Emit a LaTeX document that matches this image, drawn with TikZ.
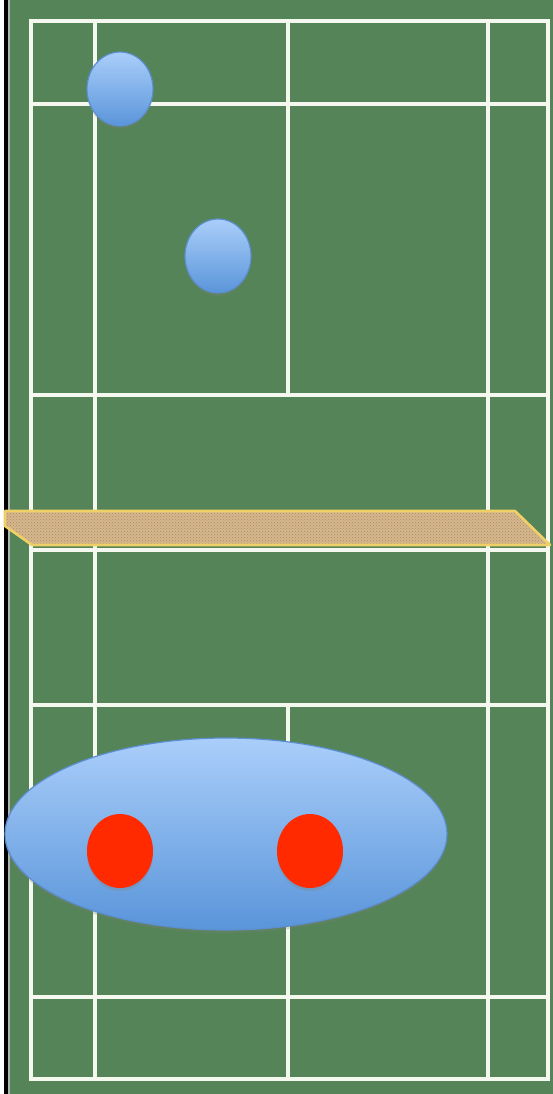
\documentclass[tikz,border=0pt]{standalone}
\usetikzlibrary{shapes.geometric,shadows,patterns}
\definecolor{court}{HTML}{548457}
\definecolor{courtline}{HTML}{F4F8EE}
\definecolor{plA}{HTML}{AACEFA}
\definecolor{plB}{HTML}{5A95DA}
\definecolor{plEdge}{HTML}{5C8ED0}
\definecolor{netfill}{HTML}{D6B78C}
\definecolor{netdot}{HTML}{A88A68}
\definecolor{netedge}{HTML}{EFD066}
\definecolor{redp}{HTML}{FF2A00}
\tikzset{
  cline/.style={courtline,line width=4.5pt,line cap=rect},
  player/.style={ellipse,draw=plEdge,line width=1.2pt,top color=plA,bottom color=plB,
     minimum width=66pt,minimum height=74pt,inner sep=0pt,outer sep=0pt,
     drop shadow={shadow xshift=0pt,shadow yshift=-3pt,opacity=0.25}},
  redplayer/.style={ellipse,fill=redp,minimum width=66pt,minimum height=74pt,inner sep=0pt,
     drop shadow={shadow xshift=0pt,shadow yshift=-3pt,opacity=0.3}},
  zone/.style={ellipse,draw=plEdge,line width=1.2pt,top color=plA,bottom color=plB,
     minimum width=442pt,minimum height=192pt,inner sep=0pt,
     drop shadow={shadow xshift=0pt,shadow yshift=-3pt,opacity=0.25}}
}
\begin{document}
\begin{tikzpicture}[x=1pt,y=-1pt]
\useasboundingbox (0,0) rectangle (553,1094);
\fill[white] (0,0) rectangle (553,1094);
\fill[court] (8,0) rectangle (553,1094);
\fill[black] (4,0) rectangle (8,1094);
\fill[gray!60] (8,0) rectangle (9.5,1094);
% court lines
\draw[cline] (31,21) rectangle (548,1079);
\draw[cline] (95,21) -- (95,1079);
\draw[cline] (488,21) -- (488,1079);
\draw[cline] (288,21) -- (288,395);
\draw[cline] (288,705) -- (288,1079);
\draw[cline] (31,104) -- (548,104);
\draw[cline] (31,395) -- (548,395);
\draw[cline] (31,550) -- (548,550);
\draw[cline] (31,705) -- (548,705);
\draw[cline] (31,997) -- (548,997);
% net
\fill[netfill] (5,511) -- (515,511) -- (550,545) -- (32,545) -- (5,526) -- cycle;
\fill[pattern=crosshatch dots,pattern color=netdot] (5,511) -- (515,511) -- (550,545) -- (32,545) -- (5,526) -- cycle;
\draw[netedge,line width=2.6pt,line join=round] (5,511) -- (515,511) -- (550,545) -- (32,545) -- (5,526) -- cycle;
% players
\node[player] (p1) at (120,89) {};
\node[player] (p2) at (218,256) {};
\node[zone] (z) at (226,834) {};
\node[redplayer] (r1) at (120,851) {};
\node[redplayer] (r2) at (310,851) {};
\end{tikzpicture}
\end{document}
